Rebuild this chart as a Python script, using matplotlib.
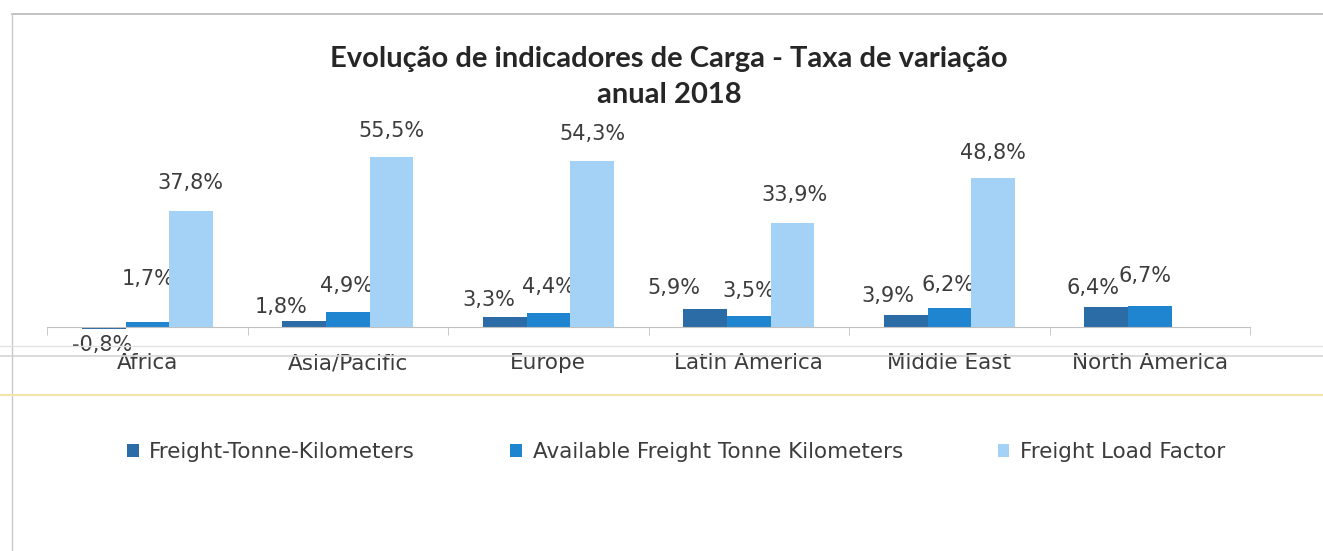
# coding: utf-8
# Evolucao de indicadores de Carga 2018 - grouped bars per region

import numpy as np
import matplotlib
matplotlib.use('Agg')
from matplotlib import pyplot as plt
from matplotlib.lines import Line2D

categories = ['Africa', 'Asia/Pacific', 'Europe', 'Latin America',
              'Middle East', 'North America']
series_names = ['Freight-Tonne-Kilometers', 'Available Freight Tonne Kilometers',
                'Freight Load Factor']
ftk = [-0.8, 1.8, 3.3, 5.9, 3.9, 6.4]
aftk = [1.7, 4.9, 4.4, 3.5, 6.2, 6.7]
flf = [37.8, 55.5, 54.3, 33.9, 48.8, np.nan]

# label nudges in pixels (dx, dy from bar end), like the hand-moved excel labels
ftk_off = [(-2, -16), (-23, 14), (-16, 17), (-31, 21), (-18, 19), (-13, 19)]
aftk_off = [(1, 43), (-1, 26), (0, 26), (0, 25), (-1, 23), (-5, 30)]
flf_off = [(0, 28), (0, 26), (1, 27), (2, 28), (0, 25), (0, 0)]

COLORS = ['#2b6ca7', '#1f85d0', '#a4d2f6']
TXT = '#3c3c3c'

plt.rcParams['font.family'] = ['DejaVu Sans']

fig = plt.figure(figsize=(13.23, 5.51), dpi=100)
ax = fig.add_axes([0.03553, 0.40708, 0.90930, 0.33212])

x = np.arange(len(categories))
w = 0.217
groups = [(ftk, ftk_off), (aftk, aftk_off), (flf, flf_off)]
for i, (vals, offs) in enumerate(groups):
    pos = x + (i - 1) * w
    ax.bar(pos, vals, width=w, color=COLORS[i], clip_on=False, zorder=3,
           label=series_names[i])
    for px, v, (dx, dy) in zip(pos, vals, offs):
        if np.isnan(v):
            continue
        s = ('%.1f' % v).replace('.', ',') + '%'
        ax.annotate(s, (px, v), xytext=(dx, dy), textcoords='offset pixels',
                    ha='center', va='center', fontsize=15, color=TXT,
                    annotation_clip=False)

ax.set_xlim(-0.5, len(categories) - 0.5)
ax.set_ylim(0, 60)
for sp in ['left', 'right', 'top']:
    ax.spines[sp].set_visible(False)
ax.spines['bottom'].set_color('#c0c0c0')
ax.spines['bottom'].set_zorder(4)
ax.set_yticks([])
ax.set_xticks(x)
ax.set_xticklabels(categories, fontsize=15.5, color=TXT)
ax.tick_params(axis='x', which='major', length=0, pad=19)
ax.set_xticks(np.arange(len(categories) + 1) - 0.5, minor=True)
ax.tick_params(axis='x', which='minor', length=5.8, color='#c0c0c0')

fig.text(0.5057, 1 - 77 / 551.0,
         u'Evolução de indicadores de Carga - Taxa de variação\nanual 2018',
         ha='center', va='center', fontsize=21, fontweight='bold',
         family=['Lato', 'DejaVu Sans'], color='#262626', linespacing=1.45)

fig.legend(loc='center', bbox_to_anchor=(0.511, 1 - 452 / 551.0), ncol=3,
           frameon=False, fontsize=15.5, handlelength=0.55, handleheight=0.55,
           handletextpad=0.5, columnspacing=4.4, labelcolor=TXT)

# frame of the chart area and the scan lines across the screenshot
W, H = 1323.0, 551.0
fig.add_artist(Line2D([12 / W, 1], [1 - 14 / H] * 2, color='#b8b8b8', lw=1.2))
fig.add_artist(Line2D([12 / W] * 2, [0, 1 - 14 / H], color='#c8c8c8', lw=1.0))
fig.add_artist(Line2D([0, 1], [1 - 346 / H] * 2, color='#e2e2e2', lw=1.0))
fig.add_artist(Line2D([0, 1], [1 - 356 / H] * 2, color='#d4d4d4', lw=1.2))
fig.add_artist(Line2D([0, 1], [1 - 395 / H] * 2, color='#f3e6a8', lw=1.5))

fig.savefig('out.png', dpi=100)
